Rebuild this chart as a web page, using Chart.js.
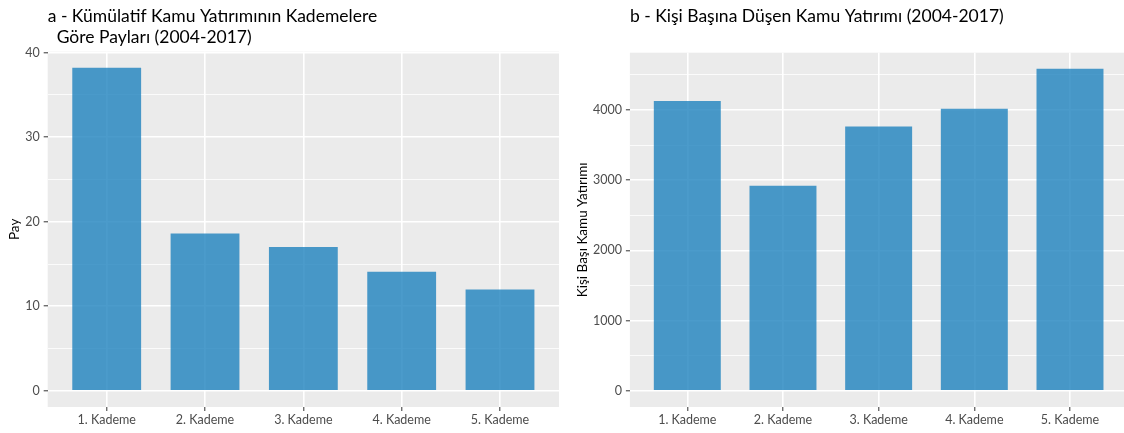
<!DOCTYPE html>
<html>
<head>
<meta charset="utf-8">
<script src="https://cdn.jsdelivr.net/npm/chart.js@4.4.1/dist/chart.umd.min.js"></script>
<style>
  html, body { margin: 0; padding: 0; background: #fff; overflow: hidden; }
  body { width: 1124px; height: 433px; position: relative; }
  .panel { position: absolute; top: 0; height: 433px; }
  #left { left: 0; width: 562px; }
  #right { left: 562px; width: 568px; }
</style>
</head>
<body>
<div class="panel" id="left"><canvas id="shareChart"></canvas></div>
<div class="panel" id="right"><canvas id="perCapitaChart"></canvas></div>
<script>
  const categories = ['1. Kademe', '2. Kademe', '3. Kademe', '4. Kademe', '5. Kademe'];
  const shareValues = [38.2, 18.6, 17.0, 14.1, 12.0];
  const perCapitaValues = [4125, 2920, 3765, 4015, 4585];

  const leftTitle = ['a - Kümülatif Kamu Yatırımının Kademelere', '  Göre Payları (2004-2017)'];
  const rightTitle = 'b - Kişi Başına Düşen Kamu Yatırımı (2004-2017)';
  const leftYLabel = 'Pay';
  const rightYLabel = 'Kişi Başı Kamu Yatırımı';

  const FONT = 'Lato, "Open Sans", sans-serif';
  const barColor = 'rgba(30, 130, 190, 0.8)';

  // gray panel behind the plot, like ggplot's theme_gray
  const panelBg = {
    id: 'panelBg',
    beforeDraw(chart) {
      const { ctx, chartArea: a } = chart;
      ctx.save();
      ctx.fillStyle = '#ebebeb';
      ctx.fillRect(a.left, a.top, a.right - a.left, a.bottom - a.top);
      ctx.restore();
    }
  };

  function makeChart(id, values, title, yLabel, step, yAxisWidth, titleBottom, padRight, yTitlePad) {
    const top = Math.max(...values);
    return new Chart(document.getElementById(id), {
      type: 'bar',
      data: {
        datasets: [{
          data: values.map((v, i) => ({ x: i + 1, y: v })),
          backgroundColor: barColor,
          borderWidth: 0,
          barPercentage: 0.7,
          categoryPercentage: 1
        }]
      },
      options: {
        responsive: true,
        maintainAspectRatio: false,
        animation: false,
        layout: { padding: { left: 0, right: padRight, top: 0, bottom: 0 } },
        plugins: {
          legend: { display: false },
          tooltip: { enabled: false },
          title: {
            display: true,
            text: title,
            align: 'start',
            fullSize: false,
            color: '#000',
            font: { family: FONT, size: 17.5, weight: 'normal', lineHeight: '20.3px' },
            padding: { top: 6.5, bottom: titleBottom }
          }
        },
        scales: {
          x: {
            type: 'linear',
            offset: false,
            min: 0.4,
            max: 5.6,
            afterBuildTicks: (s) => { s.ticks = categories.map((c, i) => ({ value: i + 1 })); },
            afterFit: (s) => { s.height = 26; },
            border: { display: false },
            grid: {
              offset: false,
              color: '#ffffff',
              lineWidth: 1.6,
              tickColor: '#333333',
              tickWidth: 1,
              tickLength: 4
            },
            ticks: {
              autoSkip: false,
              maxRotation: 0,
              padding: 1,
              color: '#4d4d4d',
              font: { family: FONT, size: 12.5 },
              callback: (v) => categories[v - 1]
            }
          },
          y: {
            min: -top * 0.05,
            max: top * 1.05,
            afterBuildTicks: (s) => {
              const t = [];
              for (let v = 0; v <= s.max; v += step / 2) t.push({ value: v });
              s.ticks = t;
            },
            afterFit: (s) => { s.width = yAxisWidth; },
            border: { display: false },
            grid: {
              color: '#ffffff',
              lineWidth: (c) => (c.tick && c.tick.value % step === 0 ? 1.6 : 0.8),
              tickColor: (c) => (c.tick && c.tick.value % step === 0 ? '#333333' : 'rgba(0,0,0,0)'),
              tickWidth: 1,
              tickLength: 4
            },
            ticks: {
              padding: 4,
              color: '#4d4d4d',
              font: { family: FONT, size: 12.5 },
              callback: (v) => (v % step === 0 ? String(v) : '')
            },
            title: {
              display: true,
              text: yLabel,
              color: '#000',
              font: { family: FONT, size: 13.5 },
              padding: { top: yTitlePad, bottom: 0 }
            }
          }
        }
      },
      plugins: [panelBg]
    });
  }

  makeChart('shareChart', shareValues, leftTitle, leftYLabel, 10, 47.7, 4.6, 3, 7);
  makeChart('perCapitaChart', perCapitaValues, rightTitle, rightYLabel, 1000, 67.9, 25.9, 2.6, 13);
</script>
</body>
</html>
